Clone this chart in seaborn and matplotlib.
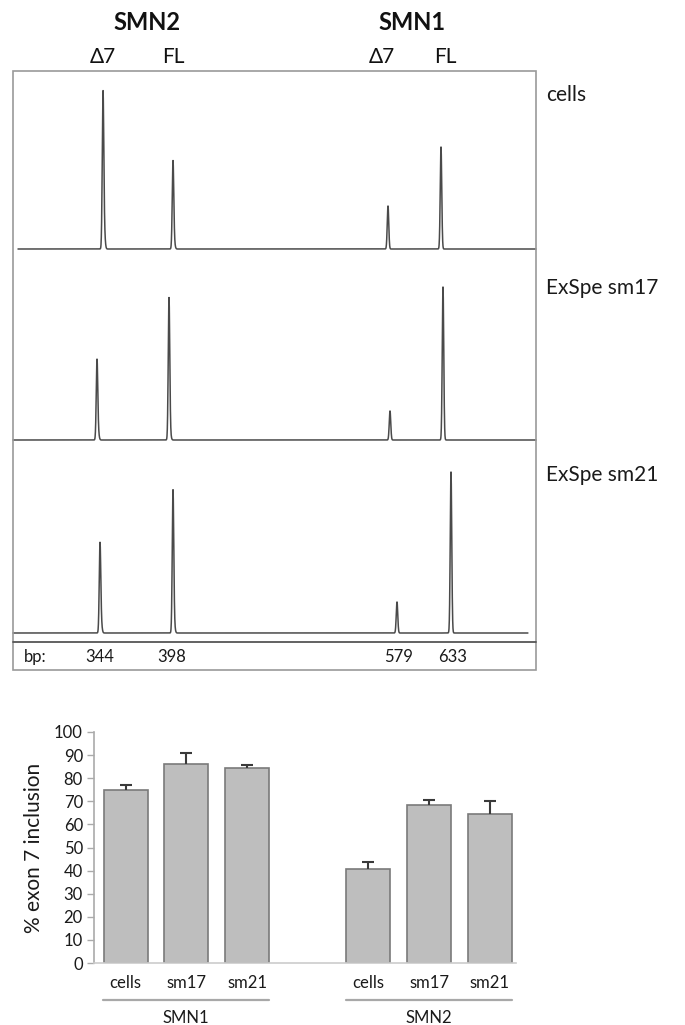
import numpy as np
import pandas as pd
import matplotlib
matplotlib.use("Agg")
import matplotlib.pyplot as plt
import matplotlib.transforms as mtransforms
import seaborn as sns

# ---------------- data ----------------
# capillary electrophoresis traces (migration position units, peak heights in fluorescence units)
trace_names = ["cells", "ExSpe sm17", "ExSpe sm21"]
peak_labels = ["Δ7", "FL", "Δ7", "FL"]
peak_pos_cells = [103, 173, 388, 441]
peak_pos_sm17 = [97, 169, 390, 443]
peak_pos_sm21 = [100, 173, 397, 451]
peak_h_cells = [151, 86, 43, 102]
peak_h_sm17 = [78, 140, 29, 153]
peak_h_sm21 = [87, 140, 31, 161]
shoulder_h_cells = [18, 6, 0, 0]
shoulder_h_sm17 = [7, 6, 0, 0]
shoulder_h_sm21 = [9, 8, 0, 0]
scan_start = [18, 13, 13]
scan_end = [539, 539, 528]
bp_sizes = ["344", "398", "579", "633"]
bp_pos = [100, 172, 399, 453]

# bar chart
genes = ["SMN1", "SMN1", "SMN1", "SMN2", "SMN2", "SMN2"]
conditions = ["cells", "sm17", "sm21", "cells", "sm17", "sm21"]
inclusion = [74.8, 86.2, 84.6, 40.8, 68.4, 64.6]
inclusion_err = [2.2, 4.6, 1.2, 3.0, 2.3, 5.4]

# ---------------- styling ----------------
sns.set_theme(style="white")
plt.rcParams["font.family"] = ["Lato", "DejaVu Sans"]

W, H = 685, 1025
fig = plt.figure(figsize=(W / 100, H / 100), dpi=100)
fig.patch.set_facecolor("white")


def fx(px):
    return px / W


def fy(py):
    return 1 - py / H


def add_ax_px(left, top, right, bottom):
    return fig.add_axes([fx(left), fy(bottom), (right - left) / W, (bottom - top) / H])


BOX_L, BOX_R, BOX_T, BOX_B = 13, 536, 71, 670
DIV_Y = 642
trace_color = "#4a4a4a"

# panel geometry (px): top, baseline, bottom
panels = [(71, 249, 253), (253, 440, 444), (444, 633, 642)]
label_y = [95, 288, 475]
pos_sets = [peak_pos_cells, peak_pos_sm17, peak_pos_sm21]
h_sets = [peak_h_cells, peak_h_sm17, peak_h_sm21]
sh_sets = [shoulder_h_cells, shoulder_h_sm17, shoulder_h_sm21]

for k, (top, base, bot) in enumerate(panels):
    ax = add_ax_px(BOX_L, top, BOX_R, bot)
    xs = np.arange(scan_start[k], scan_end[k], 0.1)
    ys = np.zeros_like(xs)
    for p, h, s in zip(pos_sets[k], h_sets[k], sh_sets[k]):
        ys += h * np.exp(-0.5 * ((xs - p) / 0.75) ** 2)
        ys += s * np.exp(-0.5 * ((xs - p - 1.2) / 0.9) ** 2)
    df = pd.DataFrame({"x": xs, "y": ys})
    sns.lineplot(data=df, x="x", y="y", ax=ax, color=trace_color, lw=1.1,
                 estimator=None, sort=False)
    for ln in ax.lines:
        ln.set_clip_on(False)
    ax.set_xlim(BOX_L, BOX_R)
    ax.set_ylim(-(bot - base), base - top)
    ax.axis("off")
    ax.patch.set_alpha(0)
    fig.text(fx(546), fy(label_y[k]), trace_names[k], fontsize=15, ha="left",
             va="center", color="#1a1a1a")

# bp row
ax_bp = add_ax_px(BOX_L, DIV_Y, BOX_R, BOX_B)
ax_bp.set_xlim(BOX_L, BOX_R)
ax_bp.set_ylim(0, 1)
ax_bp.axis("off")
tr = mtransforms.blended_transform_factory(ax_bp.transData, ax_bp.transAxes)
for p, lab in zip(bp_pos, bp_sizes):
    ax_bp.text(p, 0.48, lab, transform=tr, ha="center", va="center", fontsize=12, color="#1a1a1a")
ax_bp.text(24, 0.48, "bp:", transform=tr, ha="left", va="center", fontsize=12, color="#1a1a1a")

# frame and divider
fig.add_artist(plt.Rectangle((fx(BOX_L), fy(BOX_B)), (BOX_R - BOX_L) / W, (BOX_B - BOX_T) / H,
                             fill=False, ec="#9a9a9a", lw=1.2, transform=fig.transFigure))
fig.add_artist(plt.Line2D([fx(BOX_L), fx(BOX_R)], [fy(DIV_Y), fy(DIV_Y)],
                          color="#555555", lw=1.3, transform=fig.transFigure))

# header labels
fig.text(fx(147), fy(22), "SMN2", fontsize=17, fontweight="bold", ha="center", va="center", color="#111111")
fig.text(fx(412), fy(22), "SMN1", fontsize=17, fontweight="bold", ha="center", va="center", color="#111111")
for x, lab in zip([103, 173, 382, 445], peak_labels):
    fig.text(fx(x), fy(57), lab, fontsize=15, ha="center", va="center", color="#111111")

# ---------------- bar chart ----------------
slot_order = ["SMN1 cells", "SMN1 sm17", "SMN1 sm21", "gap", "SMN2 cells", "SMN2 sm17", "SMN2 sm21"]
bar_df = pd.DataFrame({"slot": [g + " " + c for g, c in zip(genes, conditions)],
                       "value": inclusion})
axb = add_ax_px(94, 732, 94 + 422, 963)
sns.barplot(data=bar_df, x="slot", y="value", order=slot_order, ax=axb,
            color="#bebebe", edgecolor="#7a7a7a", linewidth=1.2, width=0.725,
            saturation=1, errorbar=None)
positions = [slot_order.index(g + " " + c) for g, c in zip(genes, conditions)]
eb = axb.errorbar(positions, inclusion, yerr=[np.zeros(len(inclusion)), inclusion_err],
                  fmt="none", ecolor="#3a3a3a", elinewidth=1.5, capsize=4, capthick=1.5)
# keep only the upper caps
if len(eb[1]) >= 2:
    eb[1][0].set_visible(False)
axb.set_xlim(-0.52, 6.43)
axb.set_ylim(0, 100)
axb.set_yticks(np.arange(0, 101, 10))
axb.set_yticklabels([str(v) for v in range(0, 101, 10)], fontsize=12, color="#1a1a1a")
axb.set_xticks(positions)
axb.set_xticklabels(conditions, fontsize=12, color="#1a1a1a")
axb.tick_params(axis="y", length=5, width=1, color="#aaaaaa", direction="out", left=True, pad=3)
axb.tick_params(axis="x", length=0, pad=9)
axb.set_xlabel("")
axb.set_ylabel("% exon 7 inclusion", fontsize=15, color="#1a1a1a", labelpad=7)
for side in ["top", "right"]:
    axb.spines[side].set_visible(False)
axb.spines["left"].set_color("#aaaaaa")
axb.spines["bottom"].set_color("#cccccc")
axb.spines["left"].set_linewidth(1.2)
axb.spines["bottom"].set_linewidth(1.2)
axb.patch.set_alpha(0)

# group underlines and gene labels
grp_tr = mtransforms.blended_transform_factory(axb.transData, fig.transFigure)
for gname, idxs in [("SMN1", [0, 1, 2]), ("SMN2", [4, 5, 6])]:
    x0, x1 = idxs[0] - 0.37, idxs[-1] + 0.37
    axb.add_line(plt.Line2D([x0, x1], [fy(1000), fy(1000)], transform=grp_tr,
                            color="#a8a8a8", lw=1.6, clip_on=False))
    axb.text((x0 + x1) / 2, fy(1018), gname, transform=grp_tr, ha="center", va="center",
             fontsize=12, color="#1a1a1a")

fig.savefig("out.png", dpi=100, facecolor="white")
